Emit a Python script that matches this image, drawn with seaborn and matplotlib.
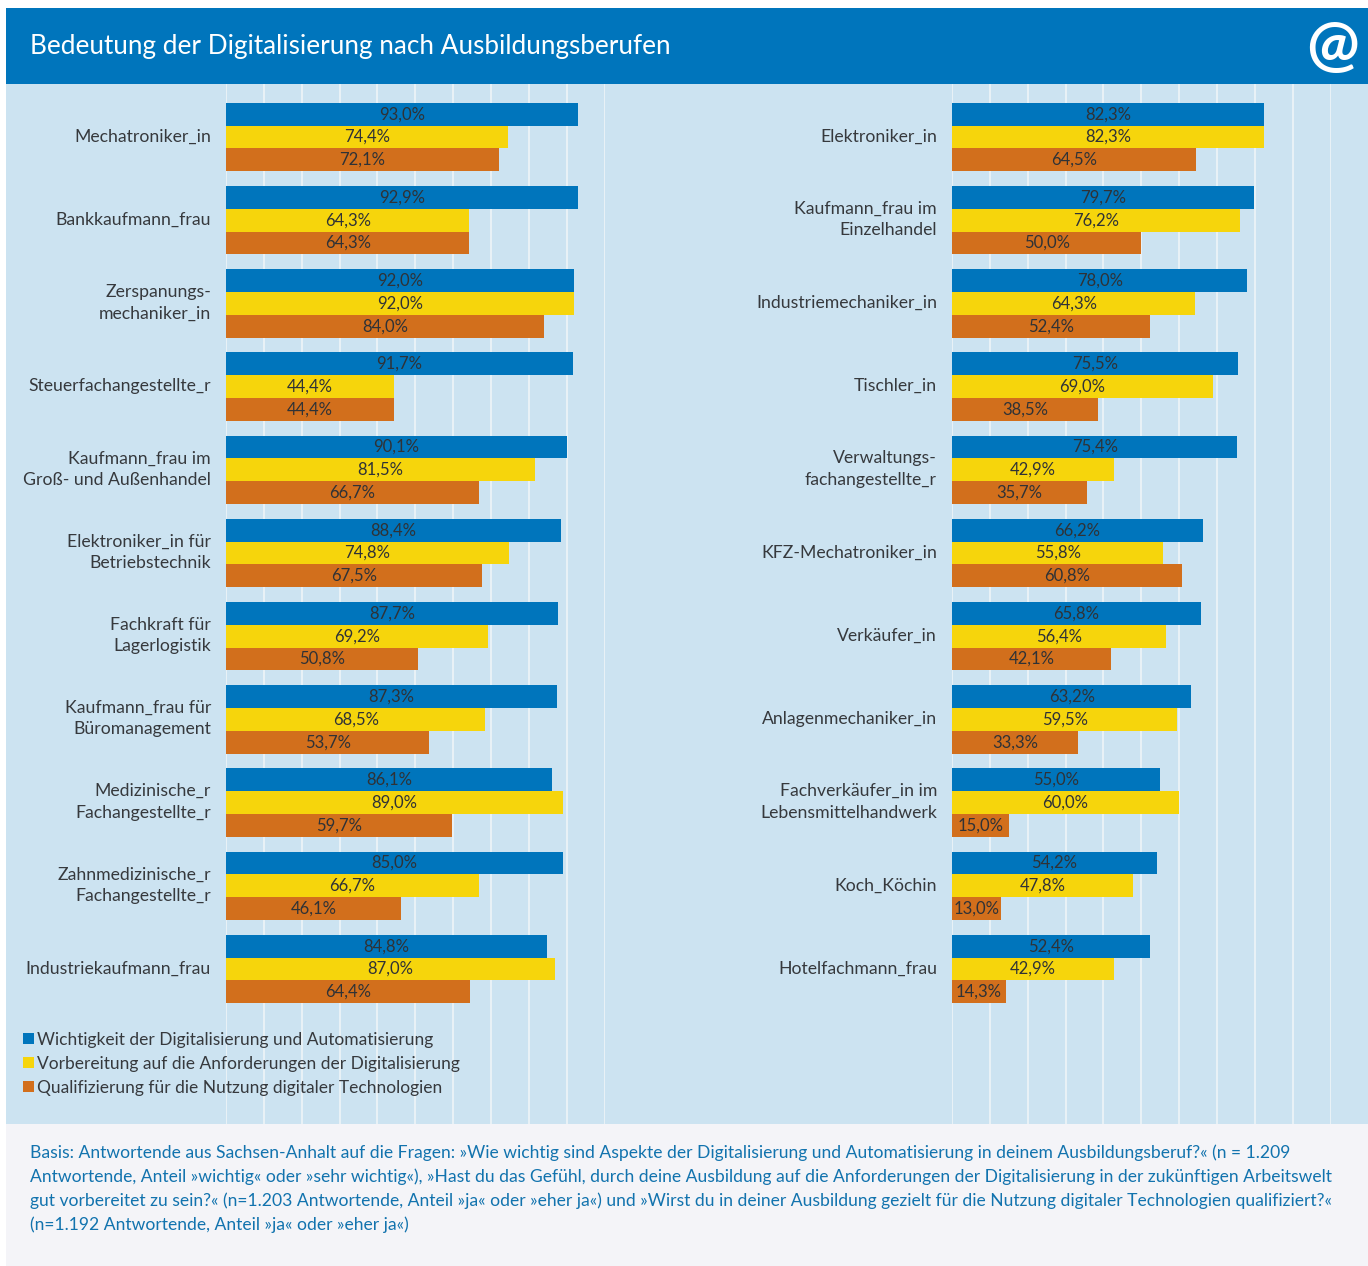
import pandas as pd
import matplotlib.pyplot as plt
import matplotlib.transforms as mtrans
import seaborn as sns
from matplotlib.patches import Rectangle

W, H = 1368, 1266

questions = ["Wichtigkeit der Digitalisierung und Automatisierung",
             "Vorbereitung auf die Anforderungen der Digitalisierung",
             "Qualifizierung für die Nutzung digitaler Technologien"]
colors = ["#0075BC", "#F6D50C", "#D26F1C"]

left_jobs = ["Mechatroniker_in", "Bankkaufmann_frau", "Zerspanungs-\nmechaniker_in",
             "Steuerfachangestellte_r", "Kaufmann_frau im\nGroß- und Außenhandel",
             "Elektroniker_in für\nBetriebstechnik", "Fachkraft für\nLagerlogistik",
             "Kaufmann_frau für\nBüromanagement", "Medizinische_r\nFachangestellte_r",
             "Zahnmedizinische_r\nFachangestellte_r", "Industriekaufmann_frau"]
left_blue = [93.0, 92.9, 92.0, 91.7, 90.1, 88.4, 87.7, 87.3, 86.1, 85.0, 84.8]
left_yellow = [74.4, 64.3, 92.0, 44.4, 81.5, 74.8, 69.2, 68.5, 89.0, 66.7, 87.0]
left_orange = [72.1, 64.3, 84.0, 44.4, 66.7, 67.5, 50.8, 53.7, 59.7, 46.1, 64.4]
# the bar for Zahnmedizinische_r is longer in the original than its label says
left_blue_drawn = [93.0, 92.9, 92.0, 91.7, 90.1, 88.4, 87.7, 87.3, 86.1, 89.1, 84.8]

right_jobs = ["Elektroniker_in", "Kaufmann_frau im\nEinzelhandel", "Industriemechaniker_in",
              "Tischler_in", "Verwaltungs-\nfachangestellte_r", "KFZ-Mechatroniker_in",
              "Verkäufer_in", "Anlagenmechaniker_in", "Fachverkäufer_in im\nLebensmittelhandwerk",
              "Koch_Köchin", "Hotelfachmann_frau"]
right_blue = [82.3, 79.7, 78.0, 75.5, 75.4, 66.2, 65.8, 63.2, 55.0, 54.2, 52.4]
right_yellow = [82.3, 76.2, 64.3, 69.0, 42.9, 55.8, 56.4, 59.5, 60.0, 47.8, 42.9]
right_orange = [64.5, 50.0, 52.4, 38.5, 35.7, 60.8, 42.1, 33.3, 15.0, 13.0, 14.3]

title = "Bedeutung der Digitalisierung nach Ausbildungsberufen"
footnote = [
    "Basis: Antwortende aus Sachsen-Anhalt auf die Fragen: »Wie wichtig sind Aspekte der Digitalisierung und Automatisierung in deinem Ausbildungsberuf?« (n = 1.209",
    "Antwortende, Anteil »wichtig« oder »sehr wichtig«), »Hast du das Gefühl, durch deine Ausbildung auf die Anforderungen der Digitalisierung in der zukünftigen Arbeitswelt",
    "gut vorbereitet zu sein?« (n=1.203 Antwortende, Anteil »ja« oder »eher ja«) und »Wirst du in deiner Ausbildung gezielt für die Nutzung digitaler Technologien qualifiziert?«",
    "(n=1.192 Antwortende, Anteil »ja« oder »eher ja«)",
]

sns.set_theme(style="white")
plt.rcParams['font.family'] = ['Lato', 'DejaVu Sans']


def fx(px):
    return px / W


def fy(px):
    return 1 - px / H


def band(fig, x0, y0, x1, y1, color):
    fig.add_artist(Rectangle((fx(x0), fy(y1)), (x1 - x0) / W, (y1 - y0) / H,
                             transform=fig.transFigure, color=color, lw=0, zorder=-5))


def panel(fig, x0, jobs, blue, yellow, orange, drawn=None):
    ax = fig.add_axes([fx(x0), fy(1124), 378.6 / W, 1040 / H])
    df = pd.DataFrame({
        "beruf": jobs * 3,
        "wert": (drawn or blue) + yellow + orange,
        "frage": [q for q in questions for _ in jobs],
    })
    sns.barplot(data=df, y="beruf", x="wert", hue="frage", palette=colors, hue_order=questions,
                order=jobs, width=0.82, saturation=1, linewidth=0, ax=ax, legend=False, errorbar=None)
    for bars, vals in zip(ax.containers, [blue, yellow, orange]):
        labels = [f"{v:.1f}%".replace(".", ",") for v in vals]
        ax.bar_label(bars, labels=labels, label_type="center", fontsize=12, color="#2f3236")
    ax.set_xlim(0, 100)
    ax.set_ylim(11.863, -0.637)
    ax.set_xticks(range(0, 101, 10))
    ax.set_xlabel("")
    ax.set_ylabel("")
    ax.patch.set_alpha(0)
    ax.set_axisbelow(True)
    ax.grid(axis="x", color="#EEF4F8", lw=1.2)
    ax.tick_params(axis="x", length=0, labelbottom=False)
    ax.tick_params(axis="y", length=0, pad=10.8, labelsize=12.7, labelcolor="#36393d")
    # lift the job names a little, two-line ones sit higher still
    for lab in ax.get_yticklabels():
        up = 5 if "\n" in lab.get_text() else 2
        lift = mtrans.ScaledTranslation(0, up / 100, fig.dpi_scale_trans)
        lab.set_linespacing(1.42)
        lab.set_multialignment("right")
        lab.set_transform(lab.get_transform() + lift)
    sns.despine(ax=ax, left=True, bottom=True)
    return ax


fig = plt.figure(figsize=(W / 100, H / 100), dpi=100, facecolor="white")
band(fig, 6, 8, W, 84, "#0075BC")
band(fig, 6, 84, W, 1124, "#CCE3F1")
band(fig, 6, 1124, W, H, "#F4F4F8")

ax_left = panel(fig, 226, left_jobs, left_blue, left_yellow, left_orange, left_blue_drawn)
ax_right = panel(fig, 952, right_jobs, right_blue, right_yellow, right_orange)

fig.text(fx(30), fy(46.5), title, color="white", fontsize=18.8, va="center", ha="left")
fig.text(fx(1333), fy(47), "@", color="white", fontsize=45, fontweight="bold",
         va="center", ha="center")

for name, col, y in zip(questions, colors, [1039, 1063, 1087]):
    fig.add_artist(Rectangle((fx(23), fy(y + 5)), 11 / W, 11 / H, transform=fig.transFigure,
                             color=col, lw=0))
    fig.text(fx(37), fy(y + 1), name, color="#36393d", fontsize=12.5, va="center", ha="left")

for i, line in enumerate(footnote):
    fig.text(fx(30), fy(1152.5 + i * 24), line, color="#1273AE", fontsize=12.62, va="center", ha="left")

plt.savefig("out.png", dpi=100)
